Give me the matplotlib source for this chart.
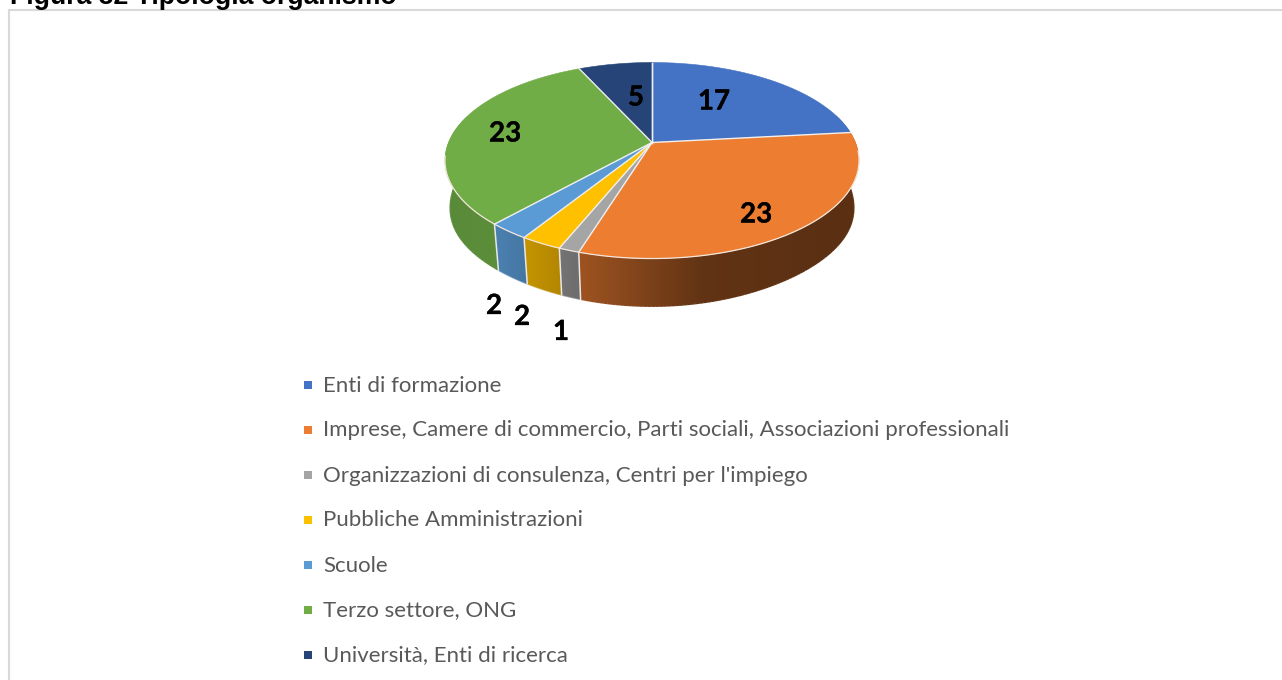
import numpy as np
import matplotlib
matplotlib.use("Agg")
import matplotlib.pyplot as plt
import matplotlib.patheffects as pe
from matplotlib.collections import LineCollection
from matplotlib.patches import Polygon, Rectangle

categories = ["Enti di formazione",
              "Imprese, Camere di commercio, Parti sociali, Associazioni professionali",
              "Organizzazioni di consulenza, Centri per l'impiego",
              "Pubbliche Amministrazioni",
              "Scuole",
              "Terzo settore, ONG",
              "Università, Enti di ricerca"]
values = [17, 23, 1, 2, 2, 23, 5]
colors = ["#4472C4", "#ED7D31", "#A5A5A5", "#FFC000", "#5B9BD5", "#70AD47", "#264478"]

# layout in pixels of the picture
W, H = 1282, 680
cx, cy = 652, 142.5
rx, ry = 203.5, 94.7
persp = 0.184
label_xy = [(714, 101.5), (756, 214.5), (561, 332), (522, 317), (494, 306), (505, 133.5), (636, 97.5)]
legend_y = [385, 430, 475, 520, 565, 610, 655]

fig = plt.figure(figsize=(W / 100, H / 100), dpi=100)
ax = fig.add_axes([0, 0, 1, 1])
ax.axis("off")


def top_xy(a):
    # a is degrees clockwise from 12 o'clock on the round pie
    u = np.sin(np.radians(a))
    v = np.cos(np.radians(a))
    d = 1 + persp * v
    return cx + rx * u / d, cy - ry * v / d


def bottom_xy(a):
    x, y = top_xy(a)
    # the lower rim hangs a bit more at the far left and right
    u = np.sin(np.radians(a))
    return cx + (x - cx) * 0.975, cy + 34 + (y - cy) * 1.118 + 12 * u ** 4


def shade(color, x):
    u = (x - cx) / rx
    f = np.interp(u, [-1, -0.75, -0.35, 0.25, 1], [0.8, 0.82, 0.66, 0.41, 0.38])
    return np.outer(f, matplotlib.colors.to_rgb(color))


ax.add_patch(Rectangle((9, 10), W + 20, H + 20, fc="white", ec="#d9d9d9", lw=1.5))
ax.text(10, 3.5, "Figura 32 Tipologia organismo", family="Liberation Sans", weight="bold",
        fontsize=19.2, color="black", va="baseline", ha="left")

edges = 360 * np.concatenate([[0], np.cumsum(values)]) / sum(values)

# side of the pie, one gradient image per slice clipped to its shape
for i in range(len(values)):
    angles = np.linspace(edges[i], edges[i + 1], 120)
    angles = angles[np.cos(np.radians(angles)) < 0.3]
    if len(angles) < 2:
        continue
    top = [top_xy(a) for a in angles]
    bottom = [bottom_xy(a) for a in angles]
    pts = np.array(top + bottom[::-1])
    x0, x1 = pts[:, 0].min() - 2, pts[:, 0].max() + 2
    y0, y1 = pts[:, 1].min() - 2, pts[:, 1].max() + 2
    grad = shade(colors[i], np.linspace(x0, x1, 64))[np.newaxis, :, :]
    im = ax.imshow(grad, extent=(x0, x1, y1, y0), aspect="auto", interpolation="bilinear", zorder=2)
    clip = Polygon(pts, transform=ax.transData)
    im.set_clip_path(clip)
    # thin line along the lower rim so the clipped edge is not jagged
    bottom = np.array(bottom)
    mid = (bottom[:-1, 0] + bottom[1:, 0]) / 2
    segs = np.stack([bottom[:-1], bottom[1:]], axis=1)
    ax.add_collection(LineCollection(segs, colors=shade(colors[i], mid), linewidths=1.0, zorder=2))

ax.set_xlim(0, W)
ax.set_ylim(H, 0)

# light lines between the slices on the side
for e in edges[1:-1]:
    if np.cos(np.radians(e)) < 0:
        x0, y0 = top_xy(e)
        x1, y1 = bottom_xy(e)
        ax.plot([x0, x1], [y0, y1], color="#e8e8e8", lw=1.1, zorder=3)

# top of the pie
for i in range(len(values)):
    angles = np.linspace(edges[i], edges[i + 1], 100)
    pts = [(cx, cy)] + [top_xy(a) for a in angles]
    ax.add_patch(Polygon(pts, fc=colors[i], ec=colors[i], lw=0.4, zorder=4))

# light lines on top, spokes and the front of the rim
for e in edges:
    x1, y1 = top_xy(e)
    ax.plot([cx, x1], [cy, y1], color="#f0f0f0", lw=1.0, zorder=5)
front = np.linspace(95, 262, 200)
rim = np.array([top_xy(a) for a in front])
ax.plot(rim[:, 0], rim[:, 1], color="#f2e6dc", lw=0.9, zorder=5)

for v, (x, y) in zip(values, label_xy):
    ax.text(x, y, str(v), family="Lato", weight="bold", fontsize=20, color="black",
            ha="center", va="center", zorder=6,
            path_effects=[pe.withStroke(linewidth=0.2, foreground="black")])

for name, col, y in zip(categories, colors, legend_y):
    ax.scatter([308], [y], marker="s", s=33, color=col, linewidths=0)
    ax.text(323, y + 0.5, name, family="Lato", fontsize=16.05, color="#595959", ha="left", va="center")

fig.savefig("out.png", dpi=100)
